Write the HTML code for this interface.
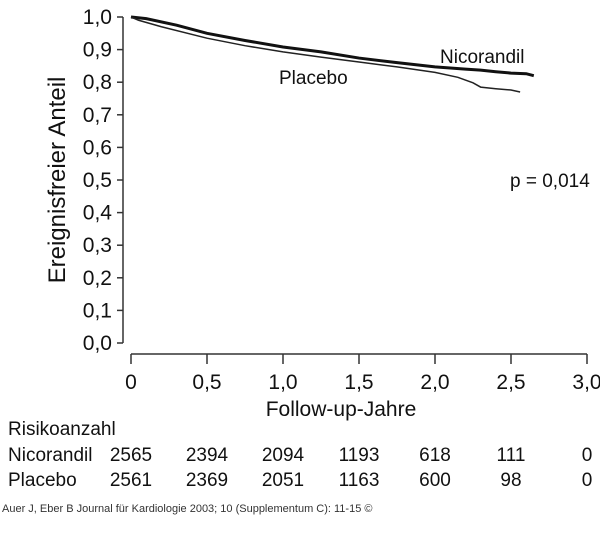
<!DOCTYPE html>
<html><head><meta charset="utf-8"><style>
body{margin:0;background:#fff;}
svg{display:block;font-family:"Liberation Sans",Arial,sans-serif;}
</style></head><body>
<svg id="chart" width="600" height="560" viewBox="0 0 600 560" xmlns="http://www.w3.org/2000/svg">
<g id="axes"></g><g id="series"></g><g id="table"></g>
<text x="0" y="0" transform="translate(65,180) rotate(-90)" text-anchor="middle" font-size="24" fill="#111">Ereignisfreier Anteil</text>
<text x="341" y="416" text-anchor="middle" font-size="21" fill="#111">Follow-up-Jahre</text>
<text x="440" y="63" font-size="19" fill="#111">Nicorandil</text>
<text x="279" y="84" font-size="19" fill="#111">Placebo</text>
<text x="510" y="187" font-size="19" fill="#111">p = 0,014</text>
<text x="8" y="435" font-size="19" fill="#111">Risikoanzahl</text>
<text x="2" y="512" font-size="11" fill="#333">Auer J, Eber B Journal für Kardiologie 2003; 10 (Supplementum C): 11-15 ©</text>
</svg>
<script>
const yTicks=[0,0.1,0.2,0.3,0.4,0.5,0.6,0.7,0.8,0.9,1.0];
const xTicks=[0,0.5,1.0,1.5,2.0,2.5,3.0];
const nicT=[0,0.1,0.3,0.5,0.75,1.0,1.25,1.5,1.75,2.0,2.2,2.3,2.4,2.5,2.6,2.65];
const nicS=[1.0,0.995,0.975,0.95,0.928,0.908,0.893,0.874,0.86,0.847,0.84,0.837,0.832,0.828,0.826,0.82];
const plaT=[0,0.05,0.2,0.5,0.75,1.0,1.25,1.5,1.75,2.0,2.15,2.25,2.3,2.4,2.5,2.56];
const plaS=[1.0,0.99,0.97,0.935,0.912,0.893,0.877,0.862,0.847,0.83,0.815,0.798,0.785,0.78,0.776,0.77];
const riskGroups=["Nicorandil","Placebo"];
const riskNic=[2565,2394,2094,1193,618,111,0];
const riskPla=[2561,2369,2051,1163,600,98,0];
const riskT=[0,0.5,1.0,1.5,2.0,2.5,3.0];
const NS="http://www.w3.org/2000/svg";
const X=t=>131+t*152;
const Y=v=>343-v*326;
function mk(tag,attrs,parent,txt){const e=document.createElementNS(NS,tag);for(const k in attrs)e.setAttribute(k,attrs[k]);if(txt!==undefined)e.textContent=txt;parent.appendChild(e);return e;}
const axes=document.getElementById('axes');
const ya=mk('line',{x1:123,y1:Y(1),x2:123,y2:Y(0),stroke:'#333','stroke-width':1.5},axes);


yTicks.forEach(v=>{
 const tk=mk('line',{x1:117,y1:Y(v),x2:123,y2:Y(v),stroke:'#333','stroke-width':1.5},axes);
 
 
 const lb=mk('text',{x:112,y:Y(v)+7,'text-anchor':'end','font-size':21,fill:'#111'},axes,v.toFixed(1).replace('.',','));
 
 
});
const xa=mk('line',{x1:X(0),y1:354,x2:X(3),y2:354,stroke:'#333','stroke-width':1.5},axes);


xTicks.forEach(t=>{
 const tk=mk('line',{x1:X(t),y1:354,x2:X(t),y2:364,stroke:'#333','stroke-width':1.5},axes);
 
 
 const lb=mk('text',{x:X(t),y:389,'text-anchor':'middle','font-size':21,fill:'#111'},axes,t===0?'0':t.toFixed(1).replace('.',','));
 
 
});
const ser=document.getElementById('series');
function stepPath(ts,ss){let d='M'+X(ts[0])+','+Y(ss[0]);for(let i=1;i<ts.length;i++){d+=' L'+X(ts[i])+','+Y(ss[i]);}return d;}
const pn=mk('path',{d:stepPath(nicT,nicS),fill:'none',stroke:'#111','stroke-width':3},ser);


const pp=mk('path',{d:stepPath(plaT,plaS),fill:'none',stroke:'#222','stroke-width':1.5},ser);


const tb=document.getElementById('table');
[riskNic,riskPla].forEach((row,r)=>{
 const yy=461+r*25;
 const nm=mk('text',{x:8,y:yy,'font-size':19,fill:'#111'},tb,riskGroups[r]);
 
 
 row.forEach((n,i)=>{
  const c=mk('text',{x:X(riskT[i]),y:yy,'text-anchor':'middle','font-size':19,fill:'#111'},tb,String(n));
  
  
 });
});
</script>
</body></html>
